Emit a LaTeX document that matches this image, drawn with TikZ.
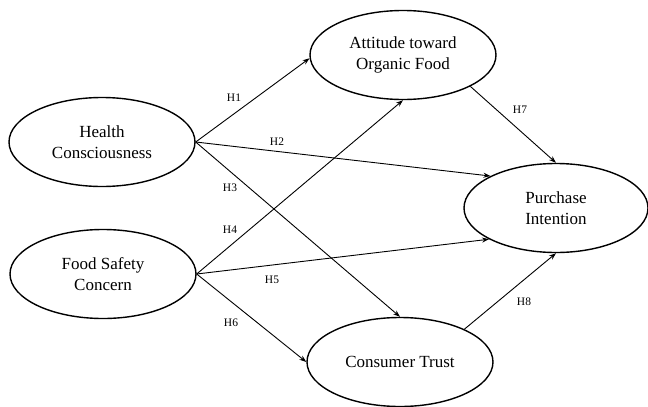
\documentclass[tikz,border=0pt]{standalone}
\usepackage{fontspec}
\setmainfont{Liberation Serif}
\usetikzlibrary{shapes.geometric,arrows.meta}
\begin{document}
\begin{tikzpicture}[x=1pt,y=-1pt,
  construct/.style={draw,line width=1.4pt,ellipse,minimum width=186pt,minimum height=89pt,inner sep=0pt,align=center,font=\fontsize{17}{21}\selectfont},
  path/.style={draw,line width=0.9pt,-{Stealth[length=7pt,width=5pt]}},
  hyp/.style={font=\fontsize{11.5}{13}\selectfont,inner sep=0pt}]
\useasboundingbox[fill=white] (0,0) rectangle (648,407);
\node[construct] (hc) at (102,142) {Health\\Consciousness};
\node[construct] (fsc) at (103,274) {Food Safety\\Concern};
\node[construct] (att) at (403,55) {Attitude toward\\Organic Food};
\node[construct,minimum width=184pt] (pi) at (556,208) {Purchase\\Intention};
\node[construct] (ct) at (400,362) {Consumer Trust};
\draw[path] (hc.east) -- (att.182);
\draw[path] (hc.east) -- (pi.154);
\draw[path] (hc.east) -- (ct.north);
\draw[path] (fsc.east) -- (att.south);
\draw[path] (fsc.east) -- (pi.205);
\draw[path] (fsc.east) -- (ct.west);
\draw[path] (att.-25) -- (pi.north);
\draw[path] (ct.27) -- (pi.south);
\node[hyp] (h1) at (234,98) {H1};
\node[hyp] (h2) at (277,142) {H2};
\node[hyp] (h3) at (230,188) {H3};
\node[hyp] (h4) at (230,230) {H4};
\node[hyp] (h5) at (272,280) {H5};
\node[hyp] (h6) at (231,323) {H6};
\node[hyp] (h7) at (520,110) {H7};
\node[hyp] (h8) at (524,302) {H8};
\end{tikzpicture}
\end{document}
